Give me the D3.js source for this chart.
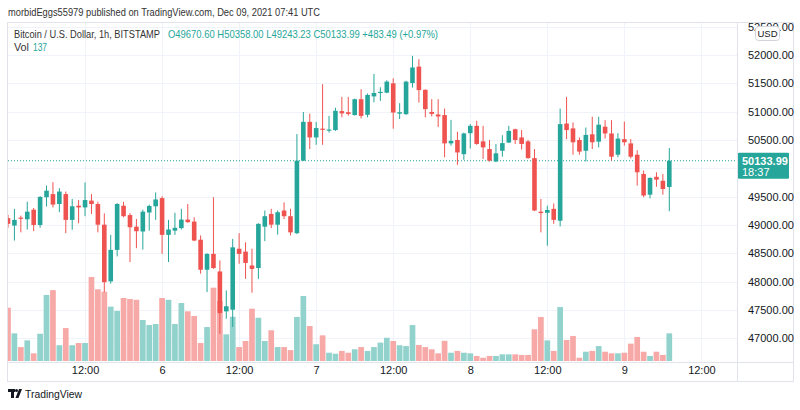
<!DOCTYPE html>
<html><head><meta charset="utf-8">
<script src="https://cdn.jsdelivr.net/npm/d3@7"></script>
<style>
html,body{margin:0;padding:0;background:#fff;}
svg{display:block;font-family:"Liberation Sans",Arial,sans-serif;}
</style></head>
<body><svg id="c" width="800" height="410"></svg>
<script>
const startTime = Date.UTC(2021, 11, 5, 0);
const open  = [49120,48990,49130,49100,49270,49000,49490,49545,49370,49545,49090,49340,49310,49430,49370,49005,48005,48560,49340,49175,48970,48885,49220,49330,49475,48825,48900,48945,49095,49060,48740,48210,48490,48180,47475,47505,48580,48530,48285,48240,48970,49195,49005,49255,49155,48855,50135,50820,50545,50700,50670,50675,51010,50990,50940,51220,50945,51270,51330,51335,51500,50965,50955,51505,51795,51385,50995,50950,50940,50440,50500,50250,50620,50750,50475,50340,50120,50310,50455,50690,50545,50475,50180,49235,49215,49285,49075,50790,50705,50500,50310,50600,50470,50735,50615,50240,50515,50440,50240,49900,49535,49850,49780,49670.60];
const high  = [49180,49285,49165,49410,49300,49510,49695,49755,49650,49590,49460,49440,49750,49545,49410,49205,48825,49385,49410,49210,49105,49270,49360,49575,49505,49090,49215,49285,49370,49135,48815,48500,49490,48375,47845,48755,48855,48695,48580,49030,49255,49285,49255,49400,49285,50605,50995,50965,50820,51485,50925,51070,51260,51260,51230,51395,51320,51665,51430,51555,51590,51150,51545,51985,51925,51395,51220,51220,51055,50855,50645,50630,50780,50840,50750,50500,50430,50585,50750,50700,50675,50500,50340,49460,49340,49380,51055,51260,50810,50545,50720,50910,50910,50850,50850,50620,50825,50515,50320,49960,49840,49930,49900,50358.00];
const low   = [48950,48725,48870,48920,48890,48950,49325,49310,49225,48855,48915,49030,49155,49195,48870,47815,47965,48445,49135,48345,48590,48565,48900,49090,48490,48345,48825,48920,49040,48715,48140,47815,48225,47080,47345,47200,48315,48050,47805,48050,48715,48945,48830,49105,48815,48840,50130,50340,50415,50415,50630,50660,50900,50930,50930,50880,50900,51165,51190,51325,50700,50870,50945,51425,51160,50900,50915,50730,50195,50400,50060,50150,50350,50415,50165,50120,50110,50205,50445,50430,50330,50170,49245,48870,48635,49020,48975,50515,50240,50240,50120,50340,50370,50525,50135,50195,50400,50175,49695,49490,49470,49675,49535,49243.23];
const close = [49020,49090,49120,49235,49000,49495,49605,49360,49590,49090,49330,49310,49440,49370,49005,47990,48560,49370,49155,48960,48890,49235,49335,49450,48825,48920,48950,49095,49050,48725,48210,48490,48240,47445,47565,48605,48490,48330,48225,49020,49155,49005,49225,49155,48870,50135,50820,50545,50710,50685,50685,51015,50970,50960,51220,50925,51295,51330,51350,51530,50985,50990,51530,51780,51380,51045,50960,50915,50440,50485,50280,50615,50750,50430,50370,50135,50265,50445,50660,50500,50430,50180,49255,49210,49265,49090,50780,50675,50460,50295,50590,50460,50770,50615,50205,50525,50460,50205,49930,49520,49830,49800,49635,50133.99];
const volume = [264,137,69,102,38,135,327,351,78,163,78,89,89,416,355,343,269,248,312,307,303,203,178,183,312,303,183,287,246,223,89,168,363,297,132,219,69,99,259,214,99,152,69,69,54,218,322,173,83,127,41,36,50,41,58,69,50,69,91,115,99,78,74,178,79,69,58,38,100,41,50,41,38,25,16,25,25,33,33,33,30,30,157,218,102,50,267,104,124,16,46,50,74,46,38,38,41,86,119,46,25,46,30,137];
const priceTicks = [47000,47500,48000,48500,49000,49500,50000,50500,51000,51500,52000,52500];
const priceLabels = [47000,47500,48000,48500,49000,49500,50500,51000,51500,52000,52500];
const timeTicks = [Date.UTC(2021,11,5,12),Date.UTC(2021,11,6,0),Date.UTC(2021,11,6,12),Date.UTC(2021,11,7,0),Date.UTC(2021,11,7,12),Date.UTC(2021,11,8,0),Date.UTC(2021,11,8,12),Date.UTC(2021,11,9,0),Date.UTC(2021,11,9,12)];
const lastPrice = 50133.99;
const countdown = "18:37";
const headerTitle = "Bitcoin / U.S. Dollar, 1h, BITSTAMP";
const headerVals = "O49670.60 H50358.00 L49243.23 C50133.99 +483.49 (+0.97%)";
const publishLine = "morbidEggs55979 published on TradingView.com, Dec 09, 2021 07:41 UTC";
const volLabel = "137";

const UP = "#26a69a", DOWN = "#ef5350", UPV = "#92d2cc", DOWNV = "#f7a9a7";
const TXT = "#131722", GRID = "#f0f3fa", BORDER = "#e0e3eb";
const svg = d3.select("#c");

const paneL = 8, paneR = 737, paneT = 22, paneB = 362;
const x = d3.scaleUtc().domain([startTime, Date.UTC(2021,11,9,7)]).range([8, 669.3]);
const y = d3.scaleLinear().domain([47000, 52000]).range([338.3, 55]);
const yv = d3.scaleLinear().domain([0, 500]).range([361, 361 - 101]);
const times = open.map((_, i) => startTime + i * 3600e3);

// grid
const grid = svg.append("g");
grid.selectAll("line.h").data(priceTicks).join("line")
  .attr("x1", paneL).attr("x2", paneR).attr("y1", d => Math.round(y(d)) + 0.5).attr("y2", d => Math.round(y(d)) + 0.5)
  .attr("stroke", GRID);
grid.selectAll("line.v").data(timeTicks).join("line")
  .attr("x1", d => Math.round(x(d)) + 0.5).attr("x2", d => Math.round(x(d)) + 0.5).attr("y1", paneT).attr("y2", paneB)
  .attr("stroke", GRID);

svg.append("clipPath").attr("id", "clip").append("rect")
  .attr("x", paneL).attr("y", paneT + 1).attr("width", paneR - paneL).attr("height", paneB - paneT - 1);
const plot = svg.append("g").attr("clip-path", "url(#clip)");

// volume
plot.append("g").selectAll("rect").data(volume).join("rect")
  .attr("x", (d, i) => x(times[i]) - 2.85).attr("width", 5.7)
  .attr("y", d => yv(d)).attr("height", d => yv(0) - yv(d))
  .attr("fill", (d, i) => close[i] >= open[i] ? UPV : DOWNV);

// current price line
plot.append("line").attr("x1", paneL).attr("x2", paneR)
  .attr("y1", y(lastPrice)).attr("y2", y(lastPrice))
  .attr("stroke", UP).attr("stroke-dasharray", "1,2");

// candles
const cg = plot.append("g").selectAll("g").data(open).join("g");
cg.append("line")
  .attr("x1", (d, i) => x(times[i])).attr("x2", (d, i) => x(times[i]))
  .attr("y1", (d, i) => y(high[i])).attr("y2", (d, i) => y(low[i]))
  .attr("stroke", (d, i) => close[i] >= open[i] ? UP : DOWN).attr("stroke-width", 1);
cg.append("rect")
  .attr("x", (d, i) => x(times[i]) - 2.3).attr("width", 4.6)
  .attr("y", (d, i) => y(Math.max(open[i], close[i])))
  .attr("height", (d, i) => Math.max(1.2, Math.abs(y(open[i]) - y(close[i]))))
  .attr("fill", (d, i) => close[i] >= open[i] ? UP : DOWN);

// frame
svg.append("rect").attr("x", 7.5).attr("y", 22.5).attr("width", 786).attr("height", 359)
  .attr("fill", "none").attr("stroke", BORDER);
svg.append("line").attr("x1", paneR + 0.5).attr("x2", paneR + 0.5).attr("y1", 22).attr("y2", 382).attr("stroke", BORDER);
svg.append("line").attr("x1", 7).attr("x2", 794).attr("y1", paneB + 0.5).attr("y2", paneB + 0.5).attr("stroke", BORDER);

// price axis
const yAxis = d3.axisRight(y).tickValues(priceLabels).tickSize(0).tickPadding(0).tickFormat(d => d3.format(".2f")(d));
const ya = svg.append("g").attr("transform", `translate(748,0)`).call(yAxis);
ya.select(".domain").remove();
ya.selectAll("text").attr("font-size", 11).attr("fill", TXT).attr("font-family", "Liberation Sans, Arial, sans-serif");

// USD box
svg.append("rect").attr("x", 755.5).attr("y", 26.5).attr("width", 24).attr("height", 14).attr("rx", 3)
  .attr("fill", "#fff").attr("stroke", "#d1d4dc");
svg.append("text").attr("x", 767.5).attr("y", 37).attr("text-anchor", "middle").attr("font-size", 9.5).attr("fill", TXT).text("USD");

// last price label
const ly = y(lastPrice);
svg.append("rect").attr("x", 738).attr("y", ly - 8).attr("width", 51).attr("height", 26).attr("rx", 1).attr("fill", UP);
svg.append("text").attr("x", 742).attr("y", ly + 4).attr("font-size", 11).attr("font-weight", "bold").attr("fill", "#fff").text(d3.format(".2f")(lastPrice));
svg.append("text").attr("x", 742).attr("y", ly + 15).attr("font-size", 11).attr("fill", "#fff").text(countdown);

// time axis
const fmt = d => { const dt = new Date(d); return dt.getUTCHours() === 0 ? String(dt.getUTCDate()) : "12:00"; };
const xAxis = d3.axisBottom(x).tickValues(timeTicks).tickSize(0).tickPadding(0).tickFormat(fmt);
const xa = svg.append("g").attr("transform", `translate(0,366)`).call(xAxis);
xa.select(".domain").remove();
xa.selectAll("text").attr("font-size", 11).attr("fill", TXT).attr("font-family", "Liberation Sans, Arial, sans-serif");

// header
svg.append("text").attr("x", 8).attr("y", 16).attr("font-size", 11).attr("fill", "#333")
  .attr("textLength", 312).attr("lengthAdjust", "spacingAndGlyphs").text(publishLine);
const hg = svg.append("g").attr("transform", "translate(0,38) scale(1,1.15)");
hg.append("text").attr("x", 14).attr("y", 0).attr("font-size", 9.4).attr("fill", "#333")
  .attr("textLength", 146).attr("lengthAdjust", "spacingAndGlyphs").text(headerTitle);
hg.append("text").attr("x", 168).attr("y", 0).attr("font-size", 9.4).attr("fill", UP)
  .attr("textLength", 270).attr("lengthAdjust", "spacingAndGlyphs").text(headerVals);
const vg = svg.append("g").attr("transform", "translate(0,51) scale(1,1.15)");
vg.append("text").attr("x", 14).attr("y", 0).attr("font-size", 9.4).attr("fill", "#333")
  .attr("textLength", 15).attr("lengthAdjust", "spacingAndGlyphs").text("Vol");
vg.append("text").attr("x", 33).attr("y", 0).attr("font-size", 9.4).attr("fill", UP)
  .attr("textLength", 14).attr("lengthAdjust", "spacingAndGlyphs").text(volLabel);

// footer logo
const logo = svg.append("g").attr("fill", TXT);
logo.append("rect").attr("x", 8).attr("y", 389).attr("width", 7).attr("height", 3);
logo.append("rect").attr("x", 11).attr("y", 389).attr("width", 3).attr("height", 9);
logo.append("circle").attr("cx", 16.5).attr("cy", 390.5).attr("r", 1.5);
logo.append("path").attr("d", "M19,389 L22,389 L18.5,398 L15.5,398 Z");
svg.append("text").attr("x", 25).attr("y", 397.5).attr("font-size", 10.5).attr("fill", TXT)
  .attr("textLength", 57).attr("lengthAdjust", "spacingAndGlyphs").text("TradingView");
</script></body></html>
